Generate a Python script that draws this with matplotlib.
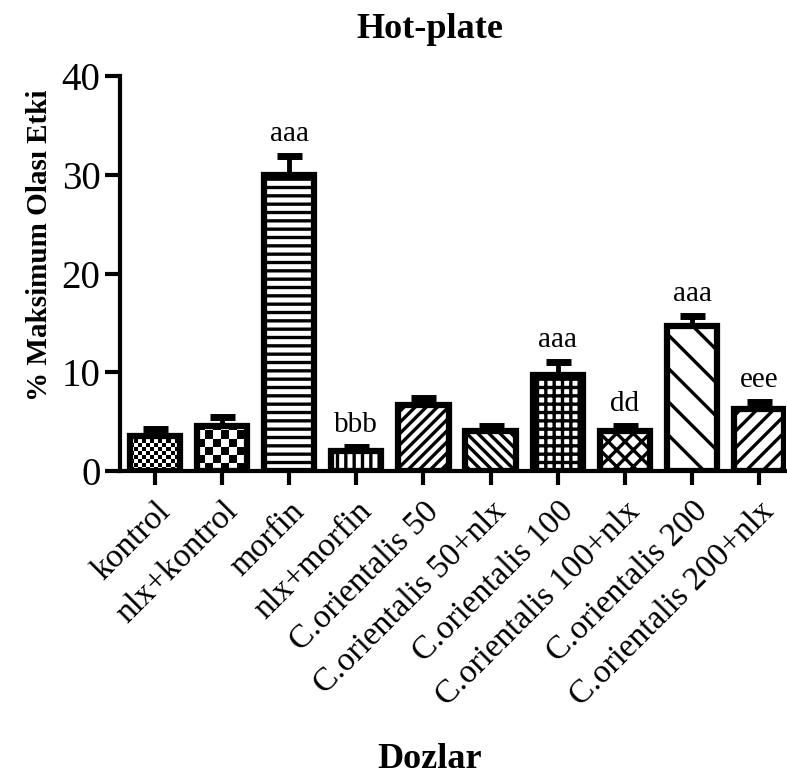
import numpy as np
import matplotlib
matplotlib.use("Agg")
import matplotlib.pyplot as plt

plt.rcParams['font.family'] = ['Liberation Serif', 'DejaVu Serif']
plt.rcParams['hatch.linewidth'] = 2.4

groups = ['kontrol', 'nlx+kontrol', 'morfin', 'nlx+morfin', 'C.orientalis 50',
          'C.orientalis 50+nlx', 'C.orientalis 100', 'C.orientalis 100+nlx',
          'C.orientalis 200', 'C.orientalis 200+nlx']
means = [3.5, 4.6, 30.0, 2.0, 6.7, 4.1, 9.7, 4.1, 14.7, 6.3]
sems = [0.8, 0.9, 1.9, 0.4, 0.7, 0.5, 1.3, 0.5, 1.0, 0.7]
marks = ['', '', 'aaa', 'bbb', '', '', 'aaa', 'dd', 'aaa', 'eee']
hatches = [None, None, '--', '||', '///', '\\\\\\', '++', 'xx', '\\', '//']
checker = {0: 4, 1: 8}  # checker cell size in px for the first two bars

fig = plt.figure(figsize=(7.87, 7.78), dpi=100)
ax = fig.add_axes([120/787, 307/778, 666/787, 395/778])

x = np.arange(len(groups))
faces = ['none' if i in checker else 'white' for i in range(len(groups))]
bars = ax.bar(x, means, width=0.75, color=faces, edgecolor='black',
              linewidth=4.5, zorder=2)
for b, h in zip(bars, hatches):
    if h:
        b.set_hatch(h)

# checkerboard fills, clipped to the bar shape
px_x = 666 / (9.4 + 0.52)   # px per x data unit
px_y = 395 / 40.0           # px per y data unit
for i, cell in checker.items():
    b = bars[i]
    n = 200 // cell
    board = (np.add.outer(np.arange(n), np.arange(n)) % 2).astype(float)
    img = ax.imshow(board, cmap='gray_r', interpolation='nearest',
                    extent=[b.get_x(), b.get_x() + cell * n / px_x,
                            0, cell * n / px_y],
                    aspect='auto', zorder=1.5)
    img.set_clip_path(b)

ax.errorbar(x, means, yerr=[np.zeros(len(sems)), sems], fmt='none',
            ecolor='black', elinewidth=3.5, capsize=9, capthick=5, zorder=1)

for xi, m, s, t in zip(x, means, sems, marks):
    if t:
        ax.text(xi, m + s + 0.9, t, ha='center', va='bottom', fontsize=21)

ax.set_xlim(-0.52, 9.4)
ax.set_ylim(0, 40)
ax.set_yticks([0, 10, 20, 30, 40])
ax.set_xticks(x)
ax.set_xticklabels(groups, rotation=45, ha='right', rotation_mode='anchor',
                   fontsize=24)
ax.tick_params(axis='y', labelsize=28, width=3, length=11, pad=3)
ax.tick_params(axis='x', width=3, length=10, pad=8)
for side in ['top', 'right']:
    ax.spines[side].set_visible(False)
for side in ['left', 'bottom']:
    ax.spines[side].set_linewidth(3)

fig.text(40/787, 1 - 245/778, '% Maksimum Olası Etki', rotation=90,
         ha='center', va='center', fontsize=21, fontweight='bold')
fig.text(430/787, 1 - 30/778, 'Hot-plate', ha='center', va='center',
         fontsize=26, fontweight='bold')
fig.text(430/787, 1 - 760/778, 'Dozlar', ha='center', va='center',
         fontsize=26, fontweight='bold')

fig.savefig('out.png', dpi=100)
